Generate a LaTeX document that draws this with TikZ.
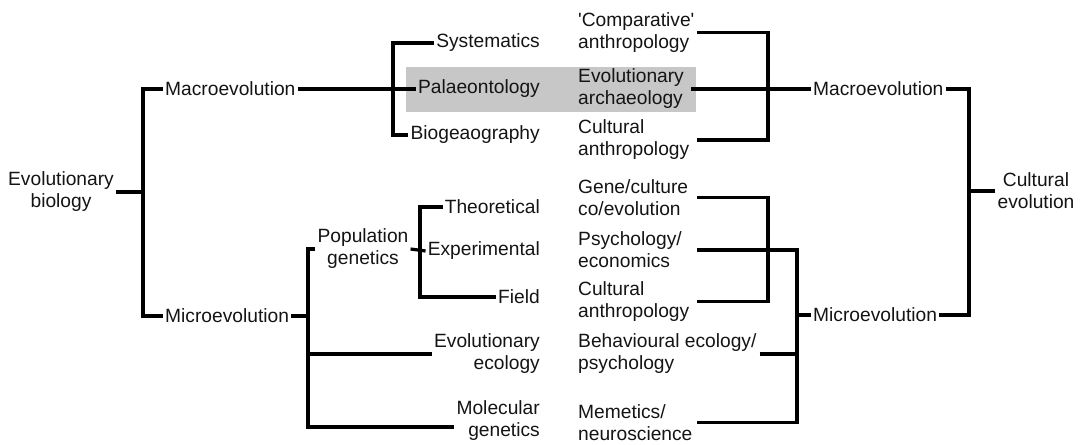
\documentclass[tikz,border=0pt]{standalone}
\usepackage{fontspec}
\setmainfont{Liberation Sans}
\begin{document}
\begin{tikzpicture}[x=1bp,y=-1bp,
  lbl/.style={inner xsep=2bp, inner ysep=1bp,
    font=\fontsize{19.2bp}{22bp}\selectfont, text=black!92},
  wire/.style={line width=3.2bp, line cap=butt, line join=miter},
]
\useasboundingbox (0,0) rectangle (1084,445);

% highlighted row behind Palaeontology / Evolutionary archaeology
\fill[black!22] (406,67) rectangle (696,112);

% spine positions of the brackets
\coordinate (xA) at (143,0);
\coordinate (xB) at (393,0);
\coordinate (xE) at (308,0);
\coordinate (xF) at (420,0);
\coordinate (xR) at (697,0);
\coordinate (xC) at (768,0);
\coordinate (xG) at (797,0);
\coordinate (xD) at (969,0);

% biology side
\node[lbl, align=center] (eb) at (61,192) {Evolutionary\\biology};
\node[lbl, anchor=west] (macL) at (163,89) {Macroevolution};
\node[lbl, anchor=west] (micL) at (163,316) {Microevolution};

\node[lbl, anchor=east] (sys) at (542,43) {Systematics};
\node[lbl, anchor=east] (pal) at (542,89) {Palaeontology};
\node[lbl, anchor=east] (bio) at (542,135) {Biogeaography};

\node[lbl, align=center] (pop) at (363,249) {Population\\genetics};
\node[lbl, anchor=east] (theo) at (542,207) {Theoretical};
\node[lbl, anchor=east] (expt) at (542,251) {Experimental};
\node[lbl, anchor=east] (field) at (542,297) {Field};
\node[lbl, anchor=east, align=right] (evoeco) at (542,354) {Evolutionary\\ecology};
\node[lbl, anchor=east, align=right] (mol) at (542,421) {Molecular\\genetics};

% culture side
\node[lbl, anchor=west, align=left] (comp) at (576,32.5) {\textquotesingle Comparative\textquotesingle\\anthropology};
\node[lbl, anchor=west, align=left] (evarch) at (576,89) {Evolutionary\\archaeology};
\node[lbl, anchor=west, align=left] (cultA) at (576,140) {Cultural\\anthropology};
\node[lbl, anchor=west, align=left] (gene) at (576,197.5) {Gene/culture\\co/evolution};
\node[lbl, anchor=west, align=left] (psych) at (576,250) {Psychology/\\economics};
\node[lbl, anchor=west, align=left] (cultB) at (576,301.5) {Cultural\\anthropology};
\node[lbl, anchor=west, align=left] (behav) at (576,354) {Behavioural ecology/\\psychology};
\node[lbl, anchor=west, align=left] (meme) at (576,422.5) {Memetics/\\neuroscience};

\node[lbl, anchor=west] (macR) at (811,89) {Macroevolution};
\node[lbl, anchor=west] (micR) at (811,315) {Microevolution};
\node[lbl, align=center] (ce) at (1036,191) {Cultural\\evolution};

\coordinate (molL) at ([yshift=-6bp]mol.west);

% biology brackets
\draw[wire] (eb.east) -- (eb.east -| xA);
\draw[wire] (macL.west) -| (micL.west -| xA) -- (micL.west);
\draw[wire] (macL.east) -- (pal.west);
\draw[wire] (sys.west) -| (bio.west -| xB) -- (bio.west);
\draw[wire] (micL.east) -- (micL.east -| xE);
\draw[wire] (pop.west) -| (molL -| xE) -- (molL);
\draw[wire] (evoeco.west -| xE) -- (evoeco.west);
\draw[wire] (pop.east) -- (expt.west);
\draw[wire] (theo.west) -| (field.west -| xF) -- (field.west);

% culture brackets
\draw[wire] (comp.east -| xR) -| (cultA.east -| xC) -- (cultA.east -| xR);
\draw[wire] ([xshift=5bp]evarch.east) -- (macR.west);
\draw[wire] (gene.east -| xR) -| (cultB.east -| xC) -- (cultB.east -| xR);
\draw[wire] (psych.east -| xR) -| (meme.east -| xG) -- (meme.east -| xR);
\draw[wire] ([xshift=1bp]behav.east) -- (behav.east -| xG);
\draw[wire] (micR.west) -- (micR.west -| xG);
\draw[wire] (macR.east) -| (micR.east -| xD) -- (micR.east);
\draw[wire] (ce.west) -- (ce.west -| xD);
\end{tikzpicture}
\end{document}
